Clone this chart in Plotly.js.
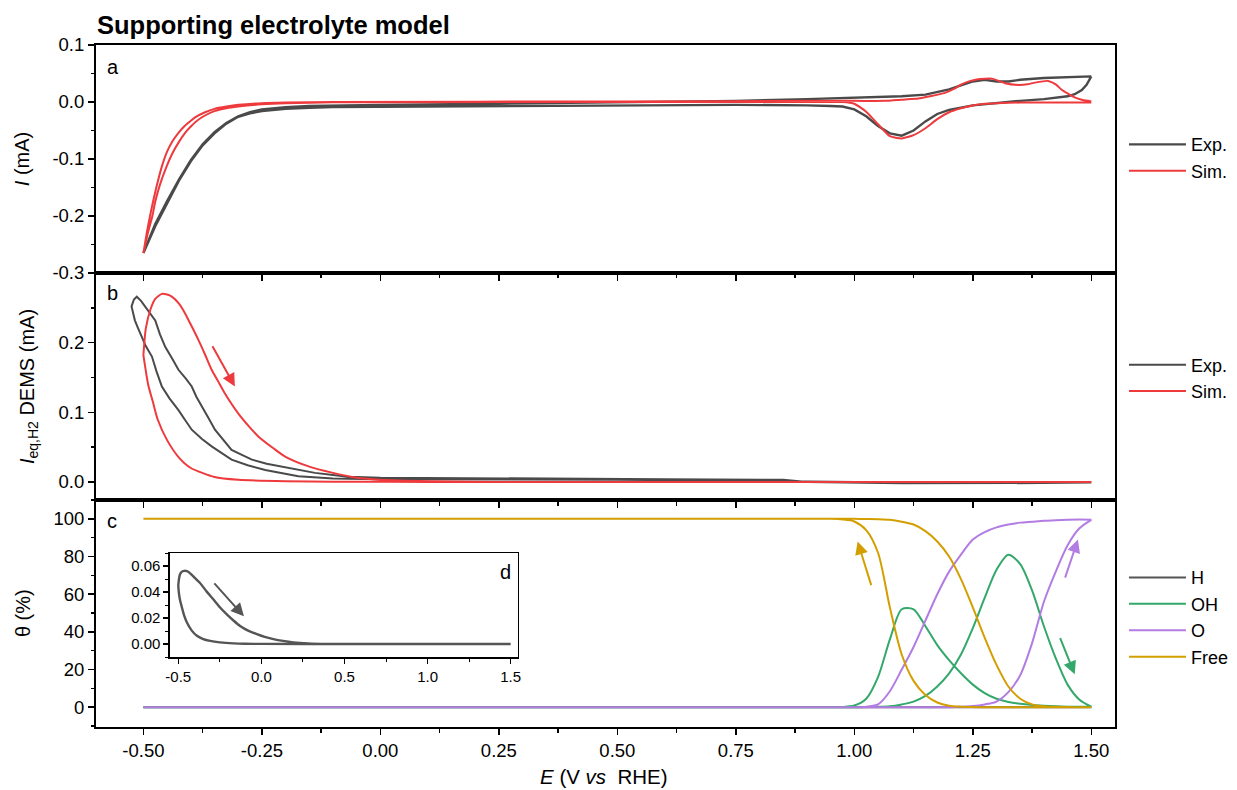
<!DOCTYPE html>
<html>
<head>
<meta charset="utf-8">
<script src="https://cdn.plot.ly/plotly-3.0.1.min.js"></script>
<style>html,body{margin:0;padding:0;background:#fff;}#chart{width:1237px;height:790px;}</style>
</head>
<body>
<div id="chart"></div>
<script>
// ---------- Panel a: CV current I (mA) ----------
const cvExpCathE = [1.5, 1.497, 1.49, 1.48, 1.465, 1.45, 1.43, 1.4, 1.35, 1.3, 1.25, 1.2, 1.175, 1.15, 1.125, 1.1, 1.075, 1.05, 1.025, 1.0, 0.975, 0.95, 0.9, 0.75, 0.5, 0.25, 0.0, -0.1, -0.15, -0.2, -0.25, -0.275, -0.3, -0.325, -0.35, -0.375, -0.4, -0.425, -0.45, -0.475, -0.5];
const cvExpCathI = [0.045, 0.040, 0.030, 0.021, 0.0136, 0.010, 0.0077, 0.005, 0.002, -0.002, -0.006, -0.014, -0.021, -0.034, -0.050, -0.059, -0.055, -0.042, -0.025, -0.013, -0.008, -0.007, -0.006, -0.005, -0.006, -0.007, -0.008, -0.009, -0.010, -0.012, -0.016, -0.020, -0.026, -0.038, -0.055, -0.076, -0.104, -0.138, -0.178, -0.218, -0.265];
const cvExpAnoE = [-0.5, -0.475, -0.45, -0.425, -0.4, -0.375, -0.35, -0.325, -0.3, -0.275, -0.25, -0.2, -0.15, -0.1, 0, 0.25, 0.5, 0.75, 0.9, 1.0, 1.05, 1.1, 1.15, 1.175, 1.2, 1.225, 1.25, 1.275, 1.3, 1.325, 1.35, 1.4, 1.45, 1.5];
const cvExpAnoI = [-0.265, -0.214, -0.174, -0.136, -0.102, -0.074, -0.053, -0.037, -0.025, -0.018, -0.013, -0.009, -0.007, -0.006, -0.005, -0.003, -0.001, 0.002, 0.005, 0.007, 0.008, 0.010, 0.013, 0.017, 0.022, 0.029, 0.036, 0.039, 0.036, 0.036, 0.039, 0.042, 0.044, 0.045];

const cvSimCathE = [1.5, 1.45, 1.4, 1.35, 1.3, 1.275, 1.25, 1.225, 1.2, 1.175, 1.15, 1.125, 1.1, 1.075, 1.05, 1.025, 1.0, 0.975, 0.95, 0.5, 0.0, -0.1, -0.2, -0.25, -0.3, -0.325, -0.35, -0.373, -0.39, -0.4, -0.412, -0.425, -0.44, -0.451, -0.465, -0.475, -0.481, -0.49, -0.5];
const cvSimCathI = [-0.001, -0.001, -0.001, -0.001, -0.002, -0.003, -0.006, -0.011, -0.018, -0.030, -0.046, -0.058, -0.064, -0.060, -0.039, -0.017, -0.003, 0.0, 0.0, 0.0, -0.0003, -0.0006, -0.002, -0.004, -0.008, -0.011, -0.016, -0.025, -0.035, -0.043, -0.054, -0.070, -0.092, -0.113, -0.145, -0.175, -0.200, -0.228, -0.265];
const cvSimAnoE = [-0.5, -0.493, -0.486, -0.475, -0.461, -0.45, -0.438, -0.426, -0.413, -0.4, -0.391, -0.37, -0.35, -0.325, -0.3, -0.25, -0.2, -0.1, 0.5, 1.0, 1.064, 1.1, 1.135, 1.16, 1.191, 1.21, 1.226, 1.245, 1.261, 1.29, 1.305, 1.318, 1.346, 1.365, 1.381, 1.409, 1.425, 1.437, 1.45, 1.465, 1.48, 1.497, 1.5];
const cvSimAnoI = [-0.265, -0.230, -0.200, -0.158, -0.113, -0.087, -0.068, -0.054, -0.042, -0.033, -0.027, -0.018, -0.012, -0.008, -0.005, -0.002, -0.001, 0, 0.001, 0.002, 0.002, 0.004, 0.006, 0.010, 0.016, 0.023, 0.031, 0.037, 0.040, 0.041, 0.037, 0.033, 0.030, 0.031, 0.034, 0.037, 0.031, 0.022, 0.015, 0.008, 0.004, 0.0015, 0.001];

// ---------- Panel b: DEMS I_eq,H2 (mA) ----------
const demsExpCathE = [1.5, 1.3, 1.1, 0.9, 0.7, 0.5, 0.3, 0.1, 0, -0.1, -0.173, -0.243, -0.28, -0.314, -0.335, -0.356, -0.377, -0.398, -0.412, -0.426, -0.445, -0.461, -0.472, -0.482, -0.495, -0.504, -0.512, -0.518, -0.523, -0.525];
const demsExpCathI = [-0.001, -0.002, -0.001, 0.001, 0.002, 0.003, 0.003, 0.004, 0.004, 0.005, 0.008, 0.017, 0.024, 0.032, 0.041, 0.051, 0.062, 0.075, 0.089, 0.103, 0.120, 0.137, 0.158, 0.180, 0.195, 0.208, 0.222, 0.232, 0.245, 0.252];
const demsExpAnoE = [-0.525, -0.52, -0.514, -0.505, -0.496, -0.485, -0.475, -0.465, -0.454, -0.44, -0.426, -0.41, -0.398, -0.388, -0.377, -0.363, -0.349, -0.33, -0.314, -0.29, -0.271, -0.24, -0.208, -0.17, -0.138, -0.1, -0.068, 0, 0.2, 0.4, 0.6, 0.85, 0.9, 1.1, 1.3, 1.5];
const demsExpAnoI = [0.252, 0.262, 0.266, 0.260, 0.252, 0.242, 0.232, 0.212, 0.194, 0.178, 0.161, 0.148, 0.137, 0.122, 0.108, 0.092, 0.075, 0.060, 0.046, 0.038, 0.032, 0.026, 0.022, 0.017, 0.013, 0.010, 0.0076, 0.006, 0.005, 0.004, 0.004, 0.003, 0.0, -0.002, -0.002, -0.001];

const demsSimCathE = [1.5, 0.1, -0.1, -0.2, -0.3, -0.35, -0.4, -0.425, -0.45, -0.47, -0.48, -0.49, -0.5];
const demsSimCathI = [0, 0, 0.0003, 0.001, 0.003, 0.007, 0.020, 0.035, 0.060, 0.090, 0.115, 0.140, 0.182];
const demsSimAnoE = [-0.5, -0.495, -0.485, -0.475, -0.461, -0.45, -0.44, -0.425, -0.412, -0.4, -0.384, -0.37, -0.356, -0.342, -0.328, -0.3, -0.275, -0.257, -0.225, -0.2, -0.15, -0.1, -0.05, 0, 0.1, 0.25, 1.5];
const demsSimAnoI = [0.182, 0.220, 0.248, 0.263, 0.270, 0.269, 0.266, 0.256, 0.242, 0.226, 0.204, 0.183, 0.161, 0.144, 0.127, 0.0985, 0.078, 0.065, 0.048, 0.036, 0.022, 0.013, 0.006, 0.003, 0.001, 0, 0];

// ---------- Panel c: coverages θ (%) ----------
const covAnoE  = [-0.5, 0.9, 0.95, 1.0, 1.025, 1.05, 1.075, 1.1, 1.125, 1.15, 1.175, 1.2, 1.225, 1.25, 1.275, 1.3, 1.325, 1.35, 1.375, 1.4, 1.425, 1.45, 1.475, 1.5];
const ohAno    = [0, 0, 0, 0, 0.1, 0.2, 0.5, 1.5, 3, 6, 11, 18, 28, 42, 58, 73, 81, 76, 62, 43, 26, 12, 4, 0.3];
const oAno     = [0, 0, 0, 0, 0, 0, 0, 0, 0, 0, 0, 0, 0.2, 0.6, 1.5, 3, 8, 17, 34, 56, 72, 86, 95, 99.5];
const freeAno  = [100, 100, 100, 100, 99.9, 99.8, 99.5, 98.5, 97, 93.5, 88, 80, 68, 53, 37, 22.5, 11, 4.5, 1.5, 0.5, 0.2, 0.1, 0, 0];
const covCathE = [1.5, 1.475, 1.45, 1.425, 1.4, 1.375, 1.35, 1.325, 1.3, 1.275, 1.25, 1.225, 1.2, 1.175, 1.15, 1.125, 1.1, 1.075, 1.05, 1.025, 1.0, 0.975, 0.95, 0.9, -0.5];
const ohCath   = [0.3, 0.2, 0.3, 0.5, 0.8, 1.2, 1.8, 2.8, 4.5, 7.5, 12, 18, 25, 33, 43, 52, 52, 36, 16, 4.5, 0.9, 0.1, 0, 0, 0];
const oCath    = [99.5, 99.6, 99.5, 99.3, 99, 98.5, 98, 97, 95.5, 93, 89, 81, 72, 60, 46, 32, 20, 8.5, 1.5, 0.3, 0, 0, 0, 0, 0];
const freeCath = [0, 0, 0, 0, 0, 0, 0, 0, 0, 0, 0.1, 0.3, 0.8, 2.5, 6.5, 14, 28, 53, 82, 94, 98.6, 99.7, 100, 100, 100];

// ---------- Inset d: H coverage ----------
const hCathE = [1.5, 0.5, 0, -0.1, -0.168, -0.25, -0.308, -0.35, -0.388, -0.42, -0.448, -0.465, -0.478, -0.49, -0.497, -0.5];
const hCath  = [0, 0, 0.0001, 0.0002, 0.0005, 0.0013, 0.0024, 0.0038, 0.0063, 0.0105, 0.0165, 0.022, 0.028, 0.034, 0.040, 0.045];
const hAnoE  = [-0.5, -0.497, -0.49, -0.478, -0.463, -0.448, -0.43, -0.4, -0.368, -0.33, -0.288, -0.25, -0.208, -0.168, -0.128, -0.08, -0.027, 0.02, 0.072, 0.13, 0.192, 0.28, 0.393, 0.5, 1.5];
const hAno   = [0.045, 0.049, 0.0535, 0.0557, 0.0563, 0.056, 0.0545, 0.0508, 0.0468, 0.0405, 0.0342, 0.0283, 0.0228, 0.0181, 0.0139, 0.0103, 0.0076, 0.0055, 0.0038, 0.0024, 0.0013, 0.0005, 0.0001, 0, 0];

// ---------- tick labels ----------
const xTickVals = [-0.5, -0.25, 0, 0.25, 0.5, 0.75, 1.0, 1.25, 1.5];
const xTickText = ['-0.50', '-0.25', '0.00', '0.25', '0.50', '0.75', '1.00', '1.25', '1.50'];
const aTickVals = [-0.3, -0.2, -0.1, 0, 0.1];
const aTickText = ['-0.3', '-0.2', '-0.1', '0.0', '0.1'];
const bTickVals = [0, 0.1, 0.2];
const bTickText = ['0.0', '0.1', '0.2'];
const cTickVals = [0, 20, 40, 60, 80, 100];
const dxTickVals = [-0.5, 0, 0.5, 1.0, 1.5];
const dxTickText = ['-0.5', '0.0', '0.5', '1.0', '1.5'];
const dyTickVals = [0, 0.02, 0.04, 0.06];
const dyTickText = ['0.00', '0.02', '0.04', '0.06'];

const C = {grey: '#4a4a4a', red: '#ee3a3d', green: '#33a86a', purple: '#b27ce2', gold: '#d39f00', hgrey: '#555555'};
const FONT = 'Liberation Sans, Arial, sans-serif';
const loop = (a, b) => a.concat(b);

const traces = [
  {x: loop(cvExpCathE, cvExpAnoE), y: loop(cvExpCathI, cvExpAnoI), xaxis: 'x2', yaxis: 'y2', name: 'Exp.', legend: 'legend', mode: 'lines', line: {color: C.grey, width: 2.4}},
  {x: loop(cvSimCathE, cvSimAnoE), y: loop(cvSimCathI, cvSimAnoI), xaxis: 'x2', yaxis: 'y2', name: 'Sim.', legend: 'legend', mode: 'lines', line: {color: C.red, width: 2, shape: 'spline', smoothing: 0.5}},
  {x: loop(demsExpCathE, demsExpAnoE), y: loop(demsExpCathI, demsExpAnoI), xaxis: 'x3', yaxis: 'y3', name: 'Exp.', legend: 'legend2', mode: 'lines', line: {color: C.grey, width: 2}},
  {x: loop(demsSimCathE, demsSimAnoE), y: loop(demsSimCathI, demsSimAnoI), xaxis: 'x3', yaxis: 'y3', name: 'Sim.', legend: 'legend2', mode: 'lines', line: {color: C.red, width: 2, shape: 'spline', smoothing: 0.6}},
  {x: loop(hCathE, hAnoE), y: loop(hCath, hAno), xaxis: 'x', yaxis: 'y', name: 'H', legend: 'legend3', mode: 'lines', line: {color: C.hgrey, width: 2}},
  {x: loop(covAnoE, covCathE), y: loop(ohAno, ohCath), xaxis: 'x', yaxis: 'y', name: 'OH', legend: 'legend3', mode: 'lines', line: {color: C.green, width: 2, shape: 'spline', smoothing: 0.8}},
  {x: loop(covAnoE, covCathE), y: loop(oAno, oCath), xaxis: 'x', yaxis: 'y', name: 'O', legend: 'legend3', mode: 'lines', line: {color: C.purple, width: 2, shape: 'spline', smoothing: 0.8}},
  {x: loop(covAnoE, covCathE), y: loop(freeAno, freeCath), xaxis: 'x', yaxis: 'y', name: 'Free', legend: 'legend3', mode: 'lines', line: {color: C.gold, width: 2, shape: 'spline', smoothing: 0.8}},
  {x: loop(hCathE, hAnoE), y: loop(hCath, hAno), xaxis: 'x4', yaxis: 'y4', name: 'H inset', showlegend: false, mode: 'lines', line: {color: C.hgrey, width: 2.4, shape: 'spline', smoothing: 0.6}}
];

const TF = 18.5;
const frame = {showline: true, linecolor: '#000', linewidth: 2, mirror: true, showgrid: false, zeroline: false, ticks: 'outside', ticklen: 6, tickwidth: 1.5, tickcolor: '#000', tickfont: {family: FONT, size: TF, color: '#000'}};
const xcommon = Object.assign({}, frame, {range: [-0.6, 1.55], tickmode: 'array', tickvals: xTickVals, ticktext: xTickText,
  minor: {tickmode: 'linear', tick0: -0.5, dtick: 0.125, ticks: 'outside', ticklen: 3.5, tickwidth: 1.5, tickcolor: '#000'}});

const legendBase = {xref: 'paper', yref: 'paper', xanchor: 'left', yanchor: 'top', bgcolor: 'rgba(0,0,0,0)', font: {family: FONT, size: 18, color: '#000'}, itemwidth: 57, tracegroupgap: 0};

const arrow = (xr, yr, tx, ty, hx, hy, color) => ({xref: xr, yref: yr, axref: xr, ayref: yr, x: hx, y: hy, ax: tx, ay: ty, text: '', showarrow: true, arrowhead: 2, arrowsize: 1.3, arrowwidth: 2, arrowcolor: color, standoff: 0, startstandoff: 0});
const label = (t, x, y, xa, sz) => ({xref: 'paper', yref: 'paper', x: x, y: y, xanchor: xa || 'left', yanchor: 'middle', text: t, showarrow: false, font: {family: FONT, size: sz || 20, color: '#000'}});

const layout = {
  width: 1237, height: 790,
  margin: {l: 96, r: 122, t: 45, b: 63, autoexpand: false},
  paper_bgcolor: '#fff', plot_bgcolor: '#fff',
  font: {family: FONT, color: '#000'},
  title: {text: '<b>Supporting electrolyte model</b>', xref: 'container', yref: 'container', x: 97 / 1237, xanchor: 'left', y: 1 - 25 / 790, yanchor: 'middle', font: {family: FONT, size: 25.5, color: '#000'}},
  xaxis: Object.assign({}, xcommon, {domain: [0, 1], anchor: 'y'}),
  xaxis2: Object.assign({}, xcommon, {domain: [0, 1], anchor: 'y2', showticklabels: false}),
  xaxis3: Object.assign({}, xcommon, {domain: [0, 1], anchor: 'y3', showticklabels: false}),
  yaxis: Object.assign({}, frame, {domain: [0, 0.3328], anchor: 'x', range: [-10.5, 110], tickmode: 'array', tickvals: cTickVals,
    minor: {tickmode: 'linear', tick0: 0, dtick: 10, ticks: 'outside', ticklen: 3.5, tickwidth: 1.5, tickcolor: '#000'}}),
  yaxis2: Object.assign({}, frame, {domain: [0.6657, 1], anchor: 'x2', range: [-0.3, 0.1], tickmode: 'array', tickvals: aTickVals, ticktext: aTickText,
    minor: {tickmode: 'linear', tick0: 0, dtick: 0.05, ticks: 'outside', ticklen: 3.5, tickwidth: 1.5, tickcolor: '#000'},
    title: {text: '<i>I</i> (mA)', font: {family: FONT, size: 20}, standoff: 17}}),
  yaxis3: Object.assign({}, frame, {domain: [0.3328, 0.6657], anchor: 'x3', range: [-0.026, 0.3], tickmode: 'array', tickvals: bTickVals, ticktext: bTickText,
    minor: {tickmode: 'linear', tick0: 0, dtick: 0.05, ticks: 'outside', ticklen: 3.5, tickwidth: 1.5, tickcolor: '#000'},
    title: {text: '<i>I</i><sub>eq,H2</sub> DEMS (mA)', font: {family: FONT, size: 20}, standoff: 19}}),
  xaxis4: Object.assign({}, frame, {domain: [0.0726, 0.4141], anchor: 'y4', range: [-0.55, 1.544], tickmode: 'array', tickvals: dxTickVals, ticktext: dxTickText, linewidth: 1.5, ticklen: 5,
    tickfont: {family: FONT, size: 15, color: '#000'},
    minor: {tickmode: 'linear', tick0: -0.5, dtick: 0.25, ticks: 'outside', ticklen: 3, tickwidth: 1, tickcolor: '#000'}}),
  yaxis4: Object.assign({}, frame, {domain: [0.1026, 0.2551], anchor: 'x4', range: [-0.01, 0.07], tickmode: 'array', tickvals: dyTickVals, ticktext: dyTickText, linewidth: 1.5, ticklen: 5,
    tickfont: {family: FONT, size: 15, color: '#000'},
    minor: {tickmode: 'linear', tick0: 0, dtick: 0.01, ticks: 'outside', ticklen: 3, tickwidth: 1, tickcolor: '#000'}}),
  legend: Object.assign({}, legendBase, {x: 1.0088, y: 0.881}),
  legend2: Object.assign({}, legendBase, {x: 1.0088, y: 0.558}),
  legend3: Object.assign({}, legendBase, {x: 1.0088, y: 0.246}),
  annotations: [
    label('a', 0.0088, 0.9677), label('b', 0.0088, 0.6364), label('c', 0.0088, 0.302), label('d', 0.4014, 0.2273, 'center'),
    {xref: 'paper', yref: 'paper', x: 0.499, y: -0.0725, xanchor: 'center', yanchor: 'middle', showarrow: false,
     text: '<i>E</i> (V <i>vs</i>  RHE)', font: {family: FONT, size: 20.5, color: '#000'}},
    {xref: 'paper', yref: 'paper', x: (23 - 96) / 1019, y: 0.167, xanchor: 'center', yanchor: 'middle', showarrow: false, textangle: -90,
     text: 'θ (%)', font: {family: FONT, size: 20, color: '#000'}},
    arrow('x3', 'y3', -0.356, 0.197, -0.307, 0.137, C.red),
    arrow('x', 'y', 1.0366, 64, 1.007, 88, C.gold),
    arrow('x', 'y', 1.4437, 68, 1.4718, 89, C.purple),
    arrow('x', 'y', 1.433, 37.5, 1.465, 17.5, C.green),
    arrow('x4', 'y4', -0.291, 0.0478, -0.105, 0.0213, C.hgrey)
  ],
  showlegend: true
};

Plotly.newPlot('chart', traces, layout, {displayModeBar: false, staticPlot: true});
</script>
</body>
</html>
